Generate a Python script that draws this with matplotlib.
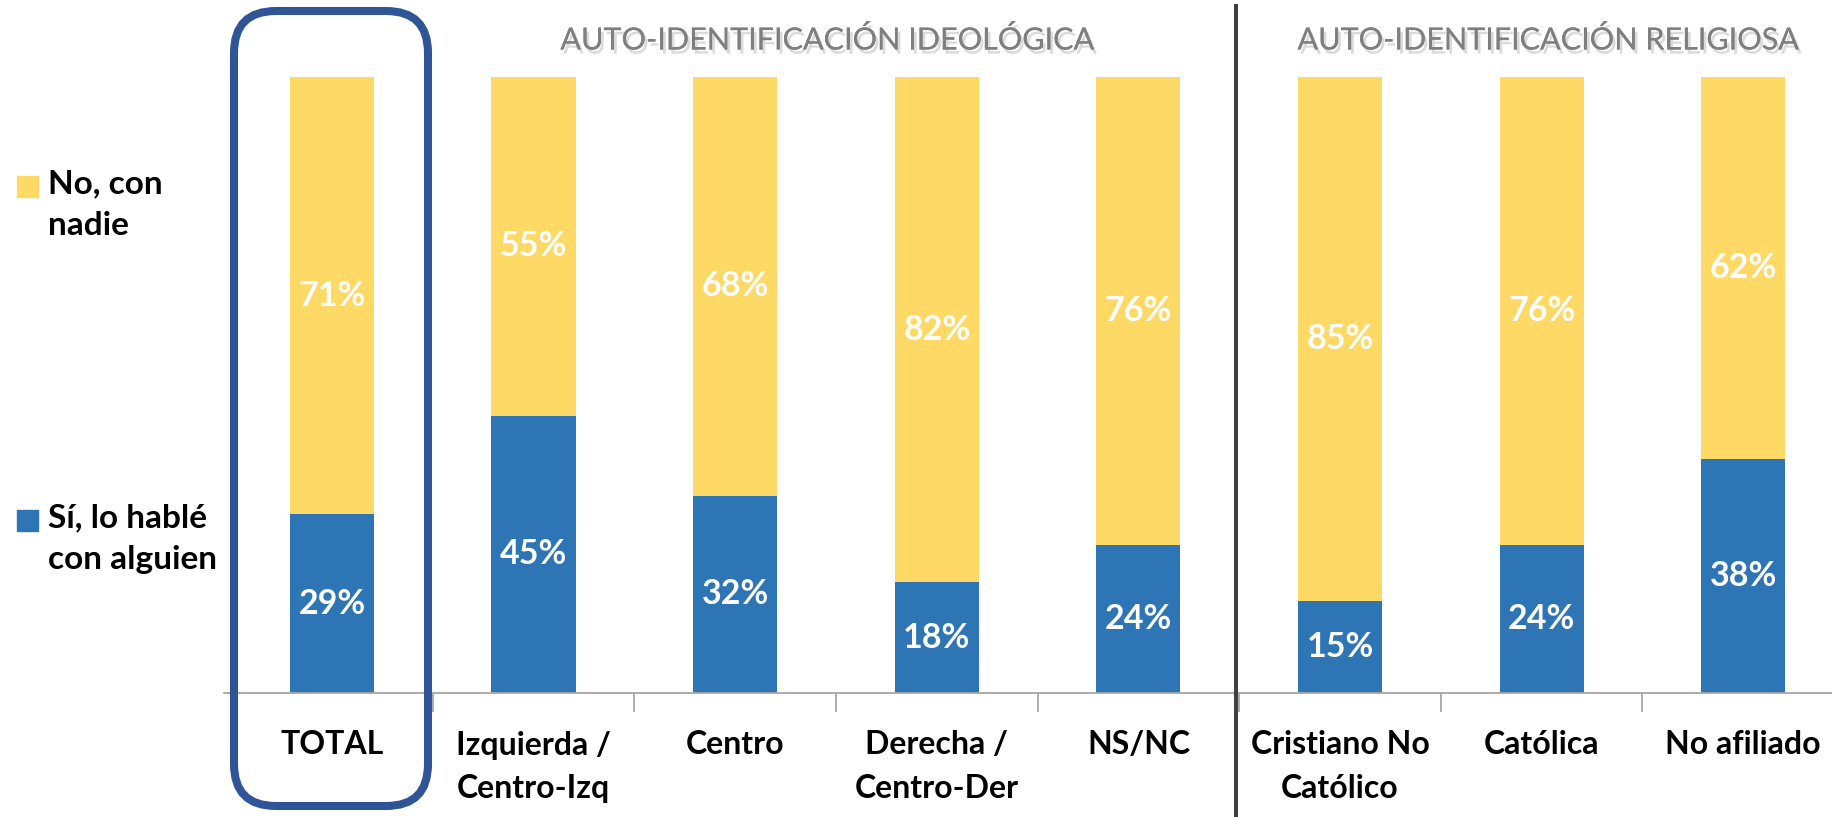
import matplotlib
matplotlib.use("Agg")
import matplotlib.pyplot as plt
from matplotlib.patches import FancyBboxPatch, Rectangle
from matplotlib.lines import Line2D
import matplotlib.patheffects as pe

categories = ["TOTAL", "Izquierda /\nCentro-Izq", "Centro", "Derecha /\nCentro-Der",
              "NS/NC", "Cristiano No\nCatólico", "Católica", "No afiliado"]
si_vals = [29, 45, 32, 18, 24, 15, 24, 38]
no_vals = [71, 55, 68, 82, 76, 85, 76, 62]
series_names = ["Sí, lo hablé\ncon alguien", "No, con\nnadie"]
group_titles = ["AUTO-IDENTIFICACIÓN IDEOLÓGICA", "AUTO-IDENTIFICACIÓN RELIGIOSA"]

BLUE = "#2E75B6"
YELLOW = "#FFD966"
FONT = ["Lato", "DejaVu Sans"]
plt.rcParams["font.family"] = FONT

W, H = 1832, 817
fig = plt.figure(figsize=(W / 100, H / 100), dpi=100)
ax = fig.add_axes([224 / W, (H - 693) / H, (W - 224) / W, 616 / H])

x = list(range(len(categories)))
bw = 0.417
ax.bar(x, si_vals, width=bw, color=BLUE, zorder=2)
ax.bar(x, no_vals, width=bw, bottom=si_vals, color=YELLOW, zorder=2)

for i in x:
    ax.text(i, si_vals[i] / 2, f"{si_vals[i]}%", ha="center", va="center",
            color="white", fontsize=24.5, fontweight="bold", zorder=3)
    ax.text(i, si_vals[i] + no_vals[i] / 2, f"{no_vals[i]}%", ha="center", va="center",
            color="white", fontsize=24.5, fontweight="bold", zorder=3)

ax.set_xlim(-0.535, 7.44)
ax.set_ylim(0, 100)
for s in ["top", "right", "left"]:
    ax.spines[s].set_visible(False)
ax.spines["bottom"].set_color("#a6a6a6")
ax.spines["bottom"].set_linewidth(1.3)
ax.set_yticks([])
ax.set_xticks([i + 0.5 for i in range(len(categories) - 1)])
ax.set_xticklabels([])
ax.tick_params(axis="x", length=13.5, width=1.3, color="#a6a6a6", direction="out")
ax.set_xticks(x, minor=True)
ax.set_xticklabels(categories, minor=True, fontsize=23, fontweight="bold",
                   linespacing=1.6, va="top")
ax.tick_params(axis="x", which="minor", length=0, pad=27)
ax.patch.set_alpha(0)

# legend (manual, matching layout)
leg_y = [520, 186]  # top-down pixel centers of first line
for name, col, yc in zip(series_names, [BLUE, YELLOW], leg_y):
    fig.patches.append(Rectangle((17 / 100, (H - yc - 10.5) / 100), 21 / 100, 21 / 100,
                                 transform=fig.dpi_scale_trans, color=col))
    fig.text(48 / W, (H - yc + 17) / H, name, ha="left", va="top", fontsize=24,
             fontweight="bold", linespacing=1.55)

# group titles
shadow = [pe.withSimplePatchShadow(offset=(2, -3), shadow_rgbFace="#999999", alpha=0.35),
          pe.Normal()]
for t, xc in zip(group_titles, [826, 1547]):
    fig.text(xc / W, (H - 40) / H, t, ha="center", va="center", fontsize=22,
             color="#7f7f7f", path_effects=shadow)

# divider line
fig.add_artist(Line2D([1236 / W, 1236 / W], [0, (H - 6) / H], color="#404040",
                      linewidth=2.9, transform=fig.transFigure))

# highlight box around TOTAL
box = FancyBboxPatch((2.34, 0.11), 1.94, 7.95, boxstyle="round,pad=0,rounding_size=0.42",
                     transform=fig.dpi_scale_trans, fill=False, edgecolor="#2F5597",
                     linewidth=5.8)
fig.patches.append(box)

fig.savefig("out.png", dpi=100)
